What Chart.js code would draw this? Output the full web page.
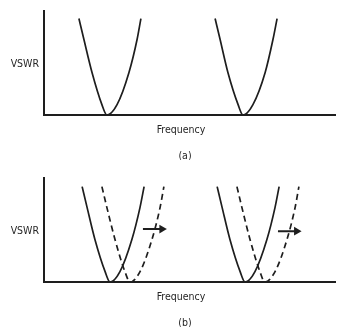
<!DOCTYPE html>
<html>
<head>
<meta charset="utf-8">
<script src="https://cdn.jsdelivr.net/npm/chart.js@4.4.1/dist/chart.umd.min.js"></script>
<style>
  html, body { margin: 0; padding: 0; background: #fff; }
  .panel { position: absolute; left: 0; width: 337px; height: 160px; }
  #top { top: 0; }
  #bottom { top: 167px; }
</style>
</head>
<body>
<div class="panel" id="top"><canvas id="chartA"></canvas></div>
<div class="panel" id="bottom"><canvas id="chartB"></canvas></div>
<script>
// frequency on 0..100, VSWR on 0..10 (arbitrary units)
const curveVswr = [9.3, 7.3, 4.1, 1.0, 0, 1.0, 4.1, 7.3, 9.3];
const curveVswrB = [9.2, 7.2, 4.1, 1.0, 0, 1.0, 4.1, 7.2, 9.2];

// (a) two resonances
const freqA1 = [12.0, 13.7, 16.5, 19.9, 21.6, 25.1, 29.2, 32.0, 33.3];
const freqA2 = [58.8, 60.5, 63.2, 66.7, 68.4, 71.8, 76.0, 78.7, 80.1];

// (b) original (solid) and shifted (dashed)
const freqB1 = [13.1, 14.8, 17.5, 21.0, 22.7, 26.1, 30.2, 33.0, 34.4];
const freqB1Shift = [19.9, 21.6, 24.4, 27.8, 29.6, 33.0, 37.1, 39.9, 41.2];
const freqB2 = [59.5, 61.2, 63.9, 67.4, 69.1, 72.5, 76.6, 79.4, 80.8];
const freqB2Shift = [66.3, 68.0, 70.8, 74.2, 75.9, 79.4, 83.5, 86.3, 87.6];

// shift arrows: start / end frequency and height
const arrowFreq1 = [34.0, 40.5];
const arrowFreq2 = [80.4, 86.8];
const arrowVswr = [5.1, 4.9];

const ink = '#1e1e1e';
const textColor = '#262626';
const fontFamily = "'DejaVu Sans Condensed', 'Liberation Sans Narrow', sans-serif";

function points(xs, ys) {
  return xs.map((x, i) => ({ x: x, y: ys[i] }));
}

function curve(xs, ys, dashed) {
  return {
    data: points(xs, ys),
    borderColor: ink,
    borderWidth: 1.7,
    borderDash: dashed ? [6, 4] : [],
    pointRadius: 0,
    cubicInterpolationMode: 'monotone',
    fill: false
  };
}

function arrow(xs, y) {
  return {
    data: points(xs, [y, y]),
    borderColor: ink,
    backgroundColor: ink,
    borderWidth: 2,
    pointRadius: [0, 5],
    pointStyle: 'triangle',
    rotation: 90,
    pointBorderWidth: 0,
    fill: false
  };
}

// draws the horizontal axis name and the panel caption
const captions = {
  id: 'captions',
  afterDraw(chart, args, opts) {
    const ctx = chart.ctx;
    ctx.save();
    ctx.fillStyle = textColor;
    ctx.font = '10.5px ' + fontFamily;
    ctx.textAlign = 'center';
    ctx.textBaseline = 'middle';
    ctx.fillText('Frequency', 181, 130);
    ctx.fillText(opts.label, 185, 156);
    ctx.restore();
  }
};

function makeChart(id, datasets, label) {
  return new Chart(document.getElementById(id), {
    type: 'line',
    data: { datasets: datasets },
    plugins: [captions],
    options: {
      responsive: true,
      maintainAspectRatio: false,
      animation: false,
      layout: { autoPadding: false, padding: { top: 10, right: 2, left: 0, bottom: 0 } },
      plugins: {
        legend: { display: false },
        tooltip: { enabled: false },
        captions: { label: label }
      },
      scales: {
        x: {
          type: 'linear',
          min: 0,
          max: 100,
          grid: { display: false, drawTicks: false },
          border: { display: true, color: ink, width: 2 },
          ticks: { display: false },
          afterFit: (scale) => { scale.height = 45; }
        },
        y: {
          type: 'linear',
          min: 0,
          max: 10,
          grid: { display: false, drawTicks: false },
          border: { display: true, color: ink, width: 2 },
          afterBuildTicks: (scale) => { scale.ticks = [{ value: 4.9 }]; },
          ticks: {
            padding: 5,
            color: textColor,
            font: { family: fontFamily, size: 10.5 },
            callback: () => 'VSWR'
          },
          afterFit: (scale) => { scale.width = 44; }
        }
      }
    }
  });
}

makeChart('chartA', [
  curve(freqA1, curveVswr, false),
  curve(freqA2, curveVswr, false)
], '(a)');

makeChart('chartB', [
  curve(freqB1, curveVswrB, false),
  curve(freqB1Shift, curveVswrB, true),
  curve(freqB2, curveVswrB, false),
  curve(freqB2Shift, curveVswrB, true),
  arrow(arrowFreq1, arrowVswr[0]),
  arrow(arrowFreq2, arrowVswr[1])
], '(b)');
</script>
</body>
</html>
